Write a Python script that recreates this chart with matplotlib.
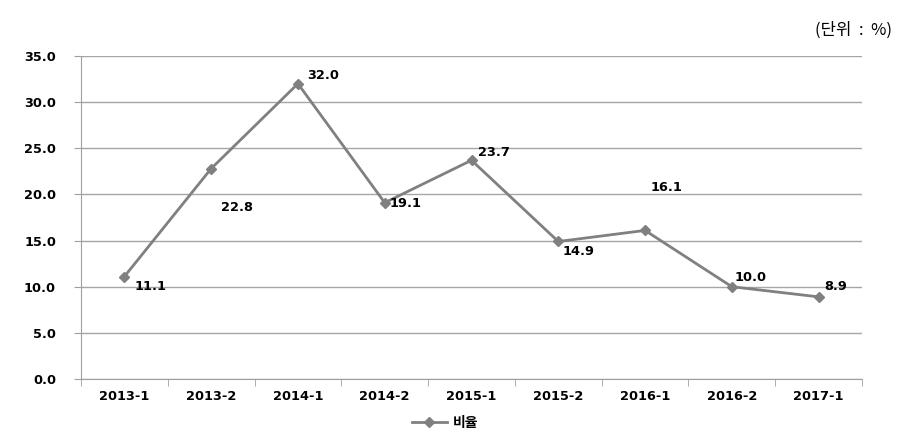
import matplotlib.pyplot as plt
import numpy as np

plt.rcParams['font.family'] = ['DejaVu Sans', 'Noto Sans CJK KR']
num_font = {'family': 'DejaVu Sans', 'weight': 'bold', 'size': 9.3}

periods = ['2013-1', '2013-2', '2014-1', '2014-2', '2015-1',
           '2015-2', '2016-1', '2016-2', '2017-1']
ratio = [11.1, 22.8, 32.0, 19.1, 23.7, 14.9, 16.1, 10.0, 8.9]
# label offsets in pixels (dx, dy)
label_off = [(26, -10), (26, -39), (25, 8), (21, -1), (22, 8),
             (20, -10), (21, 43), (19, 9), (17, 10)]

fig = plt.figure(figsize=(9.19, 4.47), dpi=100)
ax = fig.add_axes([81 / 919, 1 - 379 / 447, 781 / 919, 323 / 447])

x = np.arange(len(periods))
ax.plot(x, ratio, color='#808080', lw=2.0, marker='D', ms=5.5,
        mfc='#808080', mec='#808080', label='비율', zorder=3)

for xi, v, (dx, dy) in zip(x, ratio, label_off):
    ax.annotate(f'{v:.1f}', (xi, v), xytext=(dx, dy), textcoords='offset pixels',
                ha='center', va='center', **num_font)

ax.set_xlim(-0.5, len(periods) - 0.5)
ax.set_ylim(0, 35)
ax.set_yticks(np.arange(0, 36, 5))
ax.set_yticklabels([f'{t:.1f}' for t in np.arange(0, 36, 5)], **num_font)
ax.set_xticks(x)
ax.set_xticklabels(periods, **num_font)
ax.tick_params(axis='x', length=0, pad=8)
ax.set_xticks(np.arange(-0.5, len(periods), 1), minor=True)
ax.tick_params(axis='x', which='minor', length=5, color='#a0a0a0')
ax.tick_params(axis='y', length=5, color='#a0a0a0', pad=13)

ax.grid(axis='y', color='#a6a6a6', lw=1)
ax.set_axisbelow(True)
for s in ['top', 'right']:
    ax.spines[s].set_visible(False)
ax.spines['left'].set_color('#a0a0a0')
ax.spines['bottom'].set_color('#a0a0a0')

fig.text(892 / 919, 1 - 30 / 447, '(단위  :  %)', ha='right', va='center',
         fontsize=12, family=['Noto Sans CJK KR', 'DejaVu Sans'])

fig.legend(loc='center', bbox_to_anchor=(445 / 919, 1 - 423 / 447),
           frameon=False, prop={'size': 10, 'weight': 'bold',
                                'family': ['Noto Sans CJK KR']},
           handlelength=2.5, handletextpad=0.4)

fig.savefig('out.png', dpi=100)
